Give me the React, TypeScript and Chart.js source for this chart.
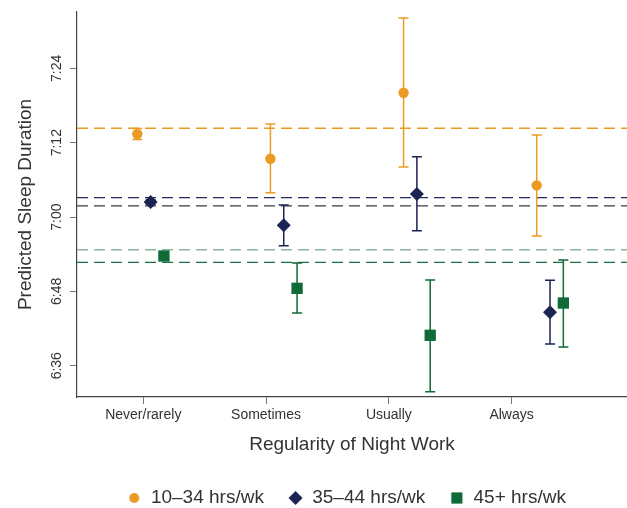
import React, { useEffect, useRef } from 'react';
import { Chart, registerables } from 'chart.js';

Chart.register(...registerables);

// ---- data (minutes after midnight) ----
const CATEGORIES = ['Never/rarely', 'Sometimes', 'Usually', 'Always'];
const SERIES_LABELS = ['10–34 hrs/wk', '35–44 hrs/wk', '45+ hrs/wk'];

const MEAN_10_34 = [433.4, 429.41, 440.06, 425.12];
const LO_10_34 = [432.5, 423.92, 428.07, 416.93];
const HI_10_34 = [434.3, 435.01, 452.12, 433.23];

const MEAN_35_44 = [422.42, 418.66, 423.71, 404.62];
const LO_35_44 = [422.1, 415.37, 417.79, 399.5];
const HI_35_44 = [422.75, 421.94, 429.73, 409.78];

const MEAN_45 = [413.71, 408.49, 400.91, 406.12];
const LO_45 = [413.5, 404.51, 391.8, 399.02];
const HI_45 = [413.9, 412.58, 409.83, 413.06];

const REF_LINES = [434.33, 423.15, 421.81, 414.72, 412.69];
const Y_TICKS = [396, 408, 420, 432, 444];

// ---- styling / layout ----
const COLORS = ['#EC9A23', '#1B2455', '#0F6A38'];
const REF_COLORS = ['#EC9A23', '#232B5C', '#3E3844', '#8BB89A', '#1A7040'];
const FONT = "'Liberation Sans', Arial, Helvetica, sans-serif";
const X_MIN = 0.46;
const X_MAX = 4.94;
const GROUP_START = 0.951;
const GROUP_STEP = 1.0845;
const SERIES_SHIFT = 0.1085;

const fmt = (v: number) => `${Math.floor(v / 60)}:${String(Math.round(v % 60)).padStart(2, '0')}`;

function makeLegendMarker(shape: string, color: string): HTMLCanvasElement {
  const c = document.createElement('canvas');
  c.width = 40;
  c.height = 20;
  const g = c.getContext('2d')!;
  g.fillStyle = color;
  const cx = 14.5;
  const cy = 10;
  g.beginPath();
  if (shape === 'circle') {
    g.arc(cx, cy, 5, 0, Math.PI * 2);
  } else if (shape === 'diamond') {
    g.moveTo(cx - 7, cy);
    g.lineTo(cx, cy - 7);
    g.lineTo(cx + 7, cy);
    g.lineTo(cx, cy + 7);
    g.closePath();
  } else {
    g.rect(cx - 5.6, cy - 5.6, 11.2, 11.2);
  }
  g.fill();
  return c;
}

export default function App() {
  const ref = useRef<HTMLCanvasElement | null>(null);

  useEffect(() => {
    if (!ref.current) return;
    const means = [MEAN_10_34, MEAN_35_44, MEAN_45];
    const los = [LO_10_34, LO_35_44, LO_45];
    const his = [HI_10_34, HI_35_44, HI_45];
    const styles = ['circle', 'rectRot', 'rect'];
    const radii = [5.2, 7, 8];
    const legendShapes = ['circle', 'diamond', 'square'];
    const legendImgs = legendShapes.map((s, i) => makeLegendMarker(s, COLORS[i]));

    const scatterSets = means.map((m, s) => ({
      type: 'scatter' as const,
      label: SERIES_LABELS[s],
      data: m.map((v, i) => ({ x: GROUP_START + GROUP_STEP * i + SERIES_SHIFT * s, y: v })),
      backgroundColor: COLORS[s],
      borderColor: COLORS[s],
      pointStyle: styles[s],
      pointRadius: radii[s],
      pointBorderWidth: 0,
      showLine: false,
    }));

    const refSets = REF_LINES.map((v, k) => ({
      type: 'line' as const,
      label: 'ref' + k,
      data: [
        { x: X_MIN, y: v },
        { x: X_MAX, y: v },
      ],
      borderColor: REF_COLORS[k],
      borderWidth: 1.3,
      borderDash: [11, 6],
      pointRadius: 0,
      fill: false,
    }));

    const errorBars = {
      id: 'errorBars',
      beforeDatasetDraw(chart: any, args: any) {
        const s = args.index;
        if (s > 2) return;
        const { ctx } = chart;
        const x = chart.scales.x;
        const y = chart.scales.y;
        ctx.save();
        ctx.strokeStyle = COLORS[s];
        ctx.lineWidth = 1.5;
        means[s].forEach((_v, i) => {
          const px = x.getPixelForValue(GROUP_START + GROUP_STEP * i + SERIES_SHIFT * s);
          const top = y.getPixelForValue(his[s][i]);
          const bot = y.getPixelForValue(los[s][i]);
          ctx.beginPath();
          ctx.moveTo(px, top);
          ctx.lineTo(px, bot);
          ctx.moveTo(px - 5, top);
          ctx.lineTo(px + 5, top);
          ctx.moveTo(px - 5, bot);
          ctx.lineTo(px + 5, bot);
          ctx.stroke();
        });
        ctx.restore();
      },
    };

    const chart: any = new Chart(ref.current, {
      type: 'scatter',
      data: { datasets: [...scatterSets, ...refSets] as any },
      plugins: [errorBars],
      options: {
        animation: false,
        responsive: false,
        events: [],
        layout: { autoPadding: false, padding: { top: 12, left: 0, right: 0, bottom: -9.5 } },
        plugins: {
          tooltip: { enabled: false },
          legend: {
            position: 'bottom',
            fullSize: false,
            labels: {
              usePointStyle: true,
              boxWidth: 3.3,
              boxHeight: 3.3,
              padding: 35.5,
              color: '#333',
              font: { family: FONT, size: 19 },
              generateLabels: () =>
                SERIES_LABELS.map((t, i) => ({
                  text: t,
                  pointStyle: legendImgs[i] as any,
                  fillStyle: COLORS[i],
                  strokeStyle: COLORS[i],
                  lineWidth: 0,
                  hidden: false,
                  datasetIndex: i,
                  fontColor: '#333',
                })),
            },
          },
        },
        scales: {
          x: {
            type: 'linear',
            min: X_MIN,
            max: X_MAX,
            afterBuildTicks: (axis: any) => {
              axis.ticks = CATEGORIES.map((_c, i) => ({ value: i + 1 }));
            },
            ticks: {
              color: '#333',
              font: { family: FONT, size: 14 },
              padding: 3,
              callback: (v: any) => CATEGORIES[Math.round(Number(v)) - 1] ?? '',
            },
            grid: { drawOnChartArea: false, drawTicks: true, tickLength: 7, color: '#777', lineWidth: 1 },
            border: { display: true, color: '#444', width: 1.2 },
            title: {
              display: true,
              text: 'Regularity of Night Work',
              color: '#333',
              font: { family: FONT, size: 19, lineHeight: 0.842 },
              padding: { top: 10.2, bottom: 0 },
            },
          },
          y: {
            type: 'linear',
            min: 390.95,
            max: 453.1,
            afterBuildTicks: (axis: any) => {
              axis.ticks = Y_TICKS.map((v) => ({ value: v }));
            },
            ticks: {
              color: '#333',
              font: { family: FONT, size: 14 },
              minRotation: 90,
              maxRotation: 90,
              crossAlign: 'center',
              padding: -1,
              callback: (v: any) => fmt(Number(v)),
            },
            grid: { drawOnChartArea: false, drawTicks: true, tickLength: 7, color: '#777', lineWidth: 1 },
            border: { display: true, color: '#444', width: 1.2 },
            title: {
              display: true,
              text: 'Predicted Sleep Duration',
              color: '#333',
              font: { family: FONT, size: 19 },
              padding: { top: 14.2, bottom: 18.2 },
            },
          },
        },
      } as any,
    });
    return () => chart.destroy();
  }, []);

  return (
    <div style={{ position: 'fixed', left: 0, top: 0, width: 627, height: 508, background: '#fff' }}>
      <canvas ref={ref} width={627} height={508} style={{ display: 'block' }} />
    </div>
  );
}
